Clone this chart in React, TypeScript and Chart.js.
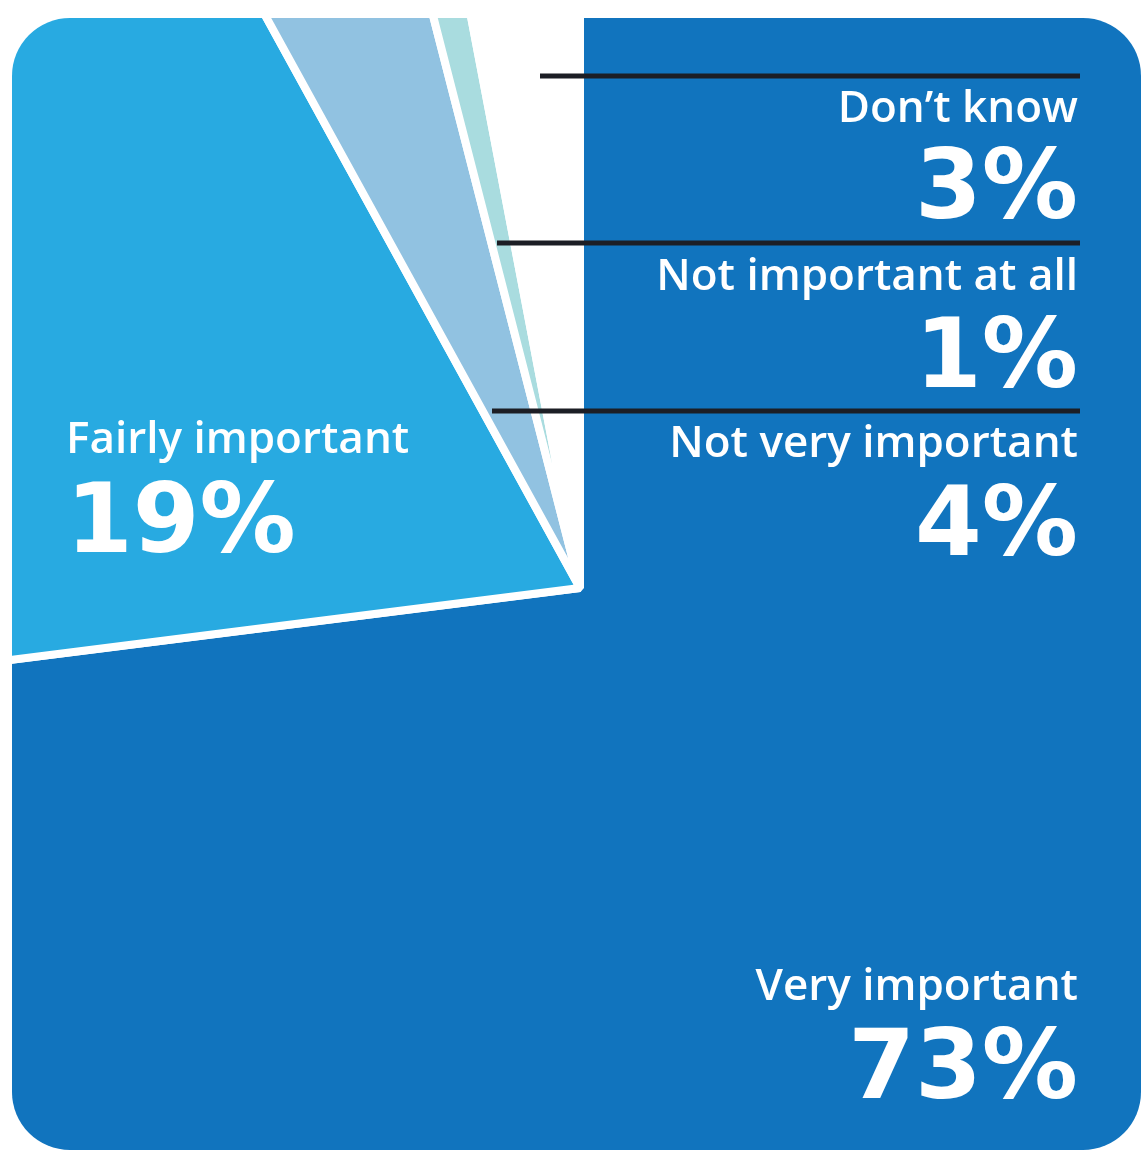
import { useEffect, useRef } from "react";
import { Chart, registerables } from "chart.js";

Chart.register(...registerables);

const categories = [
  "Very important",
  "Fairly important",
  "Not very important",
  "Not important at all",
  "Don\u2019t know",
];
const values = [73, 19, 4, 1, 3];
const sliceColors = ["#1174BE", "#28AAE1", "#91C2E1", "#A9DCDF", "#FFFFFF"];

const W = 1142;
const H = 1150;

// layout of text labels (per category index)
const labelLayout: Record<number, { x: number; align: CanvasTextAlign; lb: number; pb: number }> = {
  0: { x: 1078, align: "right", lb: 1000, pb: 1098 },
  1: { x: 66, align: "left", lb: 453, pb: 552 },
  2: { x: 1078, align: "right", lb: 457, pb: 555 },
  3: { x: 1078, align: "right", lb: 290, pb: 387 },
  4: { x: 1078, align: "right", lb: 122, pb: 218 },
};
const rules = [
  { y: 76, x0: 540 },
  { y: 243, x0: 497 },
  { y: 411, x0: 492 },
];

const clipPlugin = {
  id: "roundClip",
  beforeDatasetsDraw(chart: any) {
    const ctx = chart.ctx as CanvasRenderingContext2D;
    ctx.save();
    ctx.beginPath();
    (ctx as any).roundRect(12, 18, 1129, 1132, 58);
    ctx.clip();
  },
  afterDatasetsDraw(chart: any) {
    chart.ctx.restore();
  },
};

const textPlugin = {
  id: "labels",
  afterDraw(chart: any) {
    const ctx = chart.ctx as CanvasRenderingContext2D;
    ctx.save();
    ctx.fillStyle = "#1C1E25";
    rules.forEach((r) => {
      ctx.fillRect(r.x0, r.y - 2.5, 1080 - r.x0, 5);
    });
    ctx.fillStyle = "#FFFFFF";
    ctx.textBaseline = "alphabetic";
    categories.forEach((c, i) => {
      const l = labelLayout[i];
      ctx.textAlign = l.align;
      ctx.font = '600 44px "Open Sans"';
      ctx.fillText(c, l.x, l.lb);
      ctx.font = 'bold 96px "DejaVu Sans"';
      ctx.fillText(`${values[i]}%`, l.x, l.pb);
    });
    ctx.restore();
  },
};

export default function App() {
  const ref = useRef<HTMLCanvasElement | null>(null);
  useEffect(() => {
    document.body.style.margin = "0";
    if (!ref.current) return;
    const chart = new Chart(ref.current, {
      type: "pie",
      data: {
        labels: categories,
        datasets: [
          {
            data: values,
            backgroundColor: sliceColors,
            borderColor: "#FFFFFF",
            borderWidth: 8,
          },
        ],
      },
      options: {
        animation: false,
        responsive: false,
        devicePixelRatio: 1,
        radius: 950,
        layout: { padding: { left: 18, top: 26, right: 0, bottom: 0 } },
        plugins: { legend: { display: false }, tooltip: { enabled: false } },
        events: [],
      },
      plugins: [clipPlugin, textPlugin],
    });
    return () => chart.destroy();
  }, []);
  return <canvas ref={ref} width={W} height={H} style={{ display: "block" }} />;
}
